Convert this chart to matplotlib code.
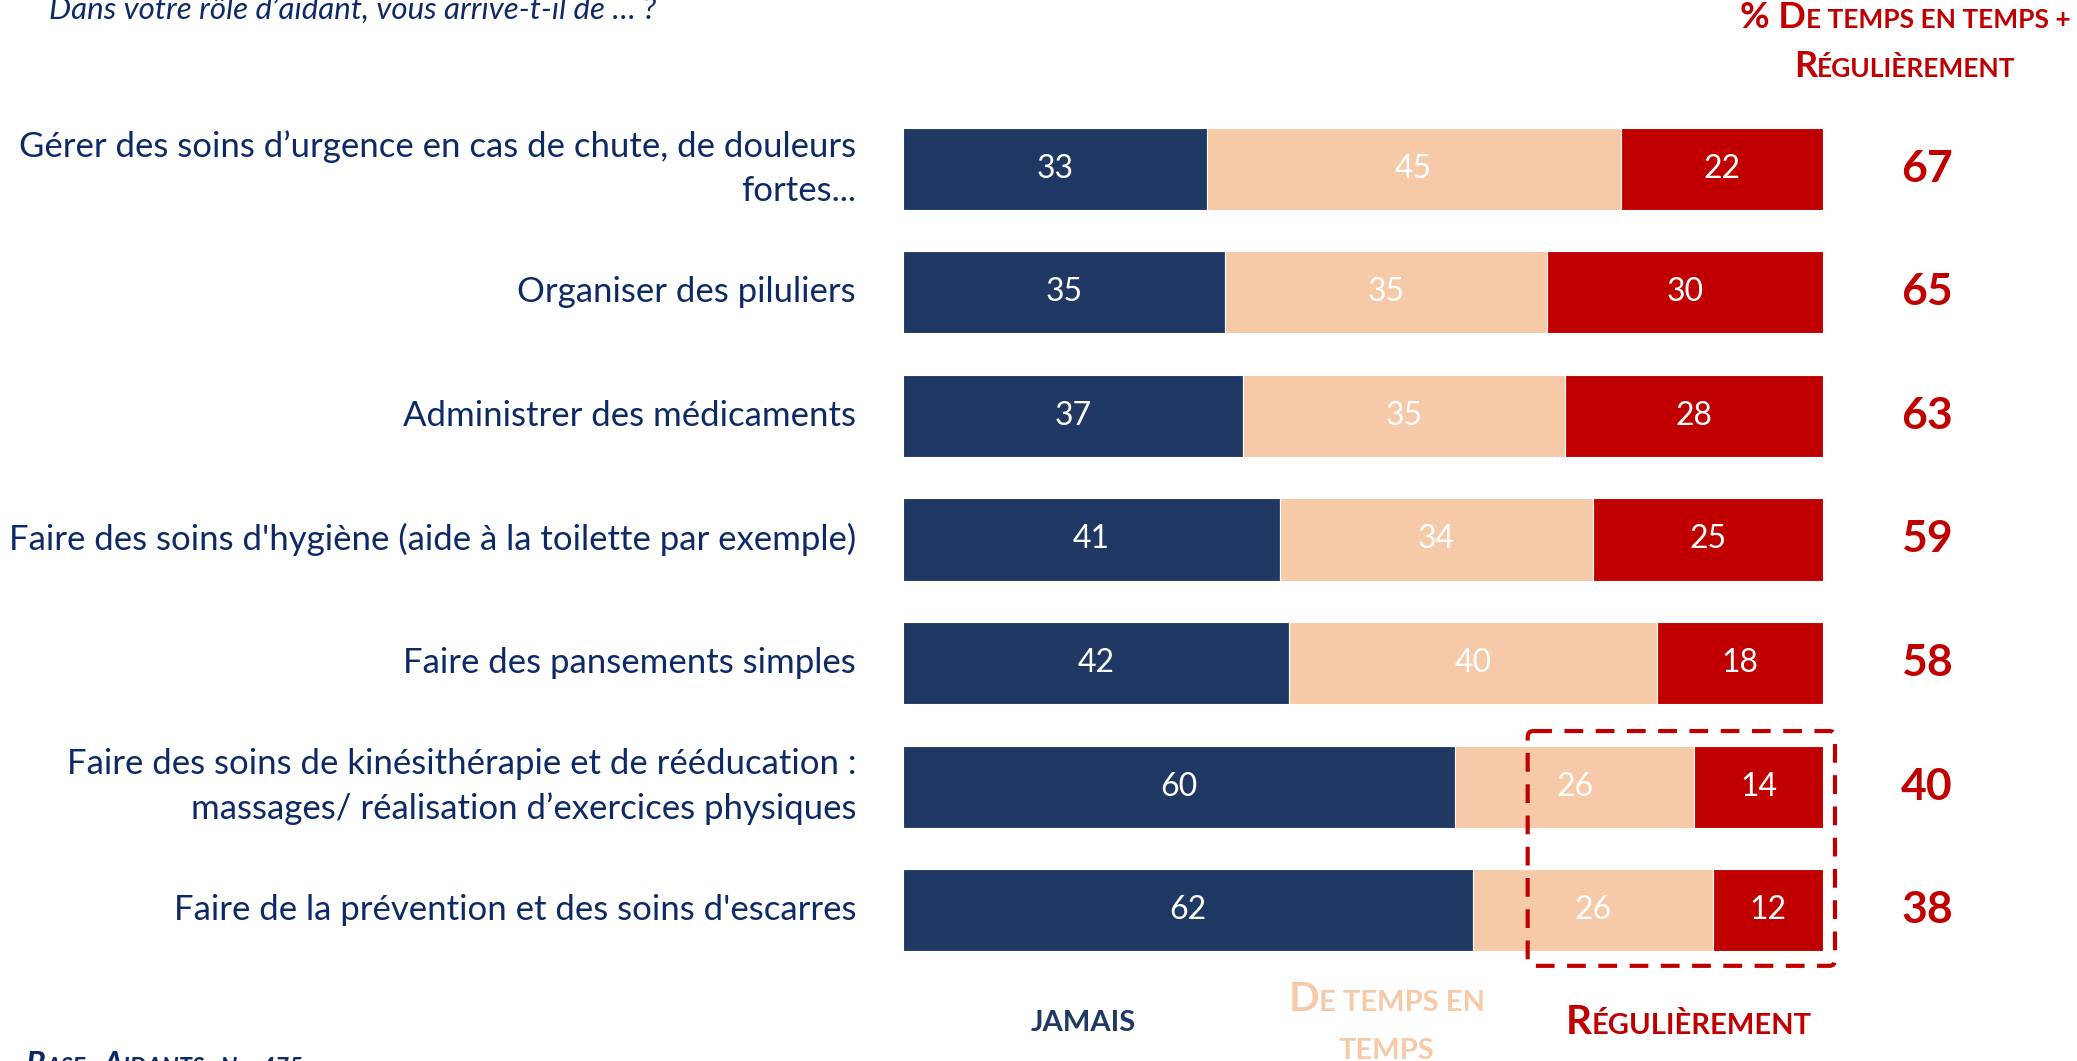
import matplotlib
matplotlib.use("Agg")
import matplotlib.pyplot as plt
from matplotlib.patches import FancyBboxPatch
from matplotlib.offsetbox import TextArea, HPacker, VPacker, AnnotationBbox

plt.rcParams['font.family'] = ['Lato', 'DejaVu Sans']

# Data
labels = [
    "Gérer des soins d’urgence en cas de chute, de douleurs\nfortes...",
    "Organiser des piluliers",
    "Administrer des médicaments",
    "Faire des soins d'hygiène (aide à la toilette par exemple)",
    "Faire des pansements simples",
    "Faire des soins de kinésithérapie et de rééducation :\nmassages/ réalisation d’exercices physiques",
    "Faire de la prévention et des soins d'escarres",
]
jamais = [33, 35, 37, 41, 42, 60, 62]
de_temps = [45, 35, 35, 34, 40, 26, 26]
regulierement = [22, 30, 28, 25, 18, 14, 12]
totals = [67, 65, 63, 59, 58, 40, 38]

NAVY = "#203864"
TEXT_NAVY = "#0E2A66"
PEACH = "#F6CAA8"
RED = "#C00000"


def small_caps(words, big, small, color, weight="bold", style="normal"):
    """Build a small-caps line: list of (text, is_big) pieces."""
    parts = []
    for txt, is_big in words:
        parts.append(TextArea(txt, textprops=dict(
            fontsize=big if is_big else small, color=color,
            fontweight=weight, fontstyle=style)))
    return HPacker(children=parts, align="baseline", pad=0, sep=0)


fig = plt.figure(figsize=(20.77, 10.61), dpi=100)
ax = fig.add_axes([903 / 2077, 1 - 972 / 1061, 920 / 2077, 865 / 1061])

n = len(labels)
ypos = list(range(n))
h = 0.665
ax.barh(ypos, jamais, height=h, color=NAVY, edgecolor="white", linewidth=0.8)
ax.barh(ypos, de_temps, left=jamais, height=h, color=PEACH, edgecolor="white", linewidth=0.8)
left2 = [a + b for a, b in zip(jamais, de_temps)]
ax.barh(ypos, regulierement, left=left2, height=h, color=RED, edgecolor="white", linewidth=0.8)

ax.set_xlim(0, 100)
ax.set_ylim(n - 0.5, -0.5)
ax.axis("off")

for i in range(n):
    ax.text(jamais[i] / 2, i, str(jamais[i]), ha="center", va="center",
            color="white", fontsize=23)
    ax.text(jamais[i] + de_temps[i] / 2, i, str(de_temps[i]), ha="center",
            va="center", color="white", fontsize=23)
    ax.text(left2[i] + regulierement[i] / 2, i, str(regulierement[i]),
            ha="center", va="center", color="white", fontsize=23)
    ax.text(111.3, i, str(totals[i]), ha="center", va="center", color=RED,
            fontsize=32, fontweight="bold", clip_on=False)
    ax.text(-5.1, i, labels[i], ha="right", va="center", color=TEXT_NAVY,
            fontsize=25, linespacing=1.45, clip_on=False)

# dashed highlight box
box = FancyBboxPatch((67.9, 4.55), 101.3 - 67.9, 1.9,
                     boxstyle="round,pad=0,rounding_size=0.6",
                     fill=False, edgecolor=RED, linewidth=3,
                     linestyle=(0, (4.5, 3)), clip_on=False,
                     mutation_aspect=0.08)
ax.add_patch(box)

# header on the right
hdr = VPacker(children=[
    small_caps([("% D", True), ("E TEMPS EN TEMPS +", False)], 26, 19, RED),
    small_caps([("R", True), ("ÉGULIÈREMENT", False)], 26, 19, RED),
], align="center", pad=0, sep=12)
fig.add_artist(AnnotationBbox(hdr, (1905 / 2077, 1 - 42 / 1061),
                              xycoords="figure fraction", frameon=False,
                              box_alignment=(0.5, 0.5)))

# legend under the bars
leg_y = 6.91
ax.add_artist(AnnotationBbox(small_caps([("JAMAIS", False)], 29, 21, NAVY),
                             (19.6, leg_y), xycoords="data", frameon=False,
                             box_alignment=(0.5, 0.5), annotation_clip=False))
mid = VPacker(children=[
    small_caps([("D", True), ("E TEMPS EN", False)], 29, 21, PEACH),
    small_caps([("TEMPS", False)], 29, 21, PEACH),
], align="center", pad=0, sep=14)
ax.add_artist(AnnotationBbox(mid, (52.6, leg_y), xycoords="data", frameon=False,
                             box_alignment=(0.5, 0.5), annotation_clip=False))
ax.add_artist(AnnotationBbox(
    small_caps([("R", True), ("ÉGULIÈREMENT", False)], 29, 21, RED),
    (85.4, leg_y), xycoords="data", frameon=False,
    box_alignment=(0.5, 0.5), annotation_clip=False))

# question at the top (partly cut off) and base note at the bottom
fig.text(49 / 2077, 1 - 19 / 1061, "Dans votre rôle d’aidant, vous arrive-t-il de … ?",
         ha="left", va="baseline", color=TEXT_NAVY, fontsize=22.5, fontstyle="italic")
base = small_caps([("B", True), ("ASE : ", False), ("A", True), ("IDANTS : N = 475", False)],
                  23, 17, TEXT_NAVY, style="italic")
fig.add_artist(AnnotationBbox(base, (26 / 2077, 1 - 1051 / 1061),
                              xycoords="figure fraction", frameon=False,
                              box_alignment=(0, 1)))

fig.savefig("out.png", dpi=100)
